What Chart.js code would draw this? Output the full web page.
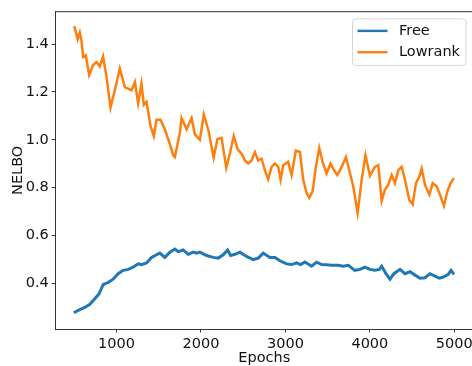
<!DOCTYPE html>
<html>
<head>
    <title>NELBO vs Epochs</title>
    <script src="https://cdn.jsdelivr.net/npm/chart.js"></script>
    <style>
        html, body { margin: 0; padding: 0; background: #fff; overflow: hidden; }
        #wrap { width: 476px; height: 366px; }
    </style>
</head>
<body>
    <div id="wrap">
        <canvas id="nelboChart" width="476" height="366"></canvas>
    </div>

    <script>
        // values
        const freeEpochs = [494, 565, 624, 684, 743, 794, 841, 900, 960, 1019, 1079, 1138, 1197, 1256, 1296,
            1355, 1415, 1474, 1513, 1572, 1632, 1691, 1730, 1789, 1848, 1908, 1948, 1987, 2066, 2145,
            2204, 2263, 2315, 2351, 2402, 2461, 2540, 2619, 2678, 2737, 2816, 2876, 2935, 3014, 3073,
            3133, 3180, 3231, 3310, 3370, 3429, 3488, 3547, 3626, 3685, 3745, 3823, 3883, 3942, 4001,
            4060, 4112, 4140, 4191, 4238, 4285, 4357, 4416, 4475, 4535, 4594, 4653, 4712, 4771, 4823,
            4870, 4929, 4961, 4996];
        const freeNelbo = [0.278, 0.291, 0.300, 0.313, 0.336, 0.357, 0.395, 0.404, 0.418, 0.441, 0.455, 0.459, 0.468, 0.482, 0.479,
            0.486, 0.509, 0.520, 0.527, 0.509, 0.531, 0.544, 0.533, 0.540, 0.522, 0.531, 0.527, 0.531, 0.517, 0.509,
            0.506, 0.520, 0.540, 0.517, 0.522, 0.531, 0.513, 0.500, 0.506, 0.527, 0.509, 0.509, 0.495, 0.482, 0.479,
            0.486, 0.479, 0.490, 0.472, 0.489, 0.479, 0.478, 0.476, 0.476, 0.472, 0.476, 0.455, 0.459, 0.468, 0.459,
            0.455, 0.459, 0.472, 0.441, 0.418, 0.441, 0.459, 0.441, 0.449, 0.435, 0.422, 0.424, 0.441, 0.431, 0.422,
            0.427, 0.438, 0.455, 0.438];

        const lowrankEpochs = [500, 540, 565, 585, 605, 636, 676, 723, 763, 802, 841, 881, 929, 980, 1039,
            1098, 1178, 1218, 1256, 1296, 1323, 1355, 1403, 1442, 1474, 1521, 1572, 1632, 1671, 1691,
            1750, 1770, 1829, 1889, 1928, 1987, 2034, 2090, 2150, 2195, 2244, 2300, 2342, 2388, 2435,
            2481, 2520, 2559, 2599, 2639, 2678, 2718, 2757, 2796, 2836, 2876, 2915, 2943, 2974, 3033,
            3073, 3124, 3172, 3211, 3251, 3282, 3322, 3361, 3401, 3440, 3488, 3535, 3575, 3614, 3666,
            3717, 3756, 3803, 3855, 3903, 3948, 4001, 4060, 4100, 4140, 4179, 4218, 4258, 4297, 4337,
            4377, 4416, 4467, 4507, 4546, 4586, 4614, 4653, 4705, 4744, 4791, 4830, 4878, 4918, 4957, 4996];
        const lowrankNelbo = [1.475, 1.420, 1.448, 1.414, 1.346, 1.353, 1.271, 1.312, 1.325, 1.307, 1.348, 1.264, 1.135, 1.207, 1.298,
            1.220, 1.207, 1.241, 1.153, 1.234, 1.146, 1.159, 1.057, 1.016, 1.084, 1.084, 1.044, 0.982, 0.935, 0.928,
            1.030, 1.091, 1.044, 1.091, 1.023, 1.000, 1.106, 1.037, 0.925, 1.003, 1.008, 0.883, 0.942, 1.016, 0.960,
            0.942, 0.914, 0.901, 0.914, 0.949, 0.914, 0.921, 0.873, 0.836, 0.887, 0.901, 0.887, 0.833, 0.894, 0.908,
            0.853, 0.955, 0.949, 0.833, 0.778, 0.758, 0.785, 0.887, 0.966, 0.908, 0.860, 0.901, 0.873, 0.853, 0.887,
            0.928, 0.873, 0.806, 0.695, 0.833, 0.935, 0.850, 0.887, 0.894, 0.745, 0.792, 0.812, 0.853, 0.819, 0.873,
            0.887, 0.833, 0.749, 0.731, 0.819, 0.846, 0.880, 0.812, 0.771, 0.819, 0.806, 0.771, 0.724, 0.785, 0.819, 0.840];

        const xTicks = [1000, 2000, 3000, 4000, 5000];
        const yTicks = [0.4, 0.6, 0.8, 1.0, 1.2, 1.4];

        const FONT = 'DejaVu Sans';
        const FONT_SIZE = 14.5;
        const textColor = '#111';
        const spineColor = '#333';

        function toPoints(xs, ys) {
            return xs.map((x, i) => ({ x: x, y: ys[i] }));
        }

        // top/right spines like matplotlib
        const framePlugin = {
            id: 'frame',
            afterDatasetsDraw(chart) {
                const { ctx, chartArea: a } = chart;
                ctx.save();
                ctx.strokeStyle = spineColor;
                ctx.lineWidth = 1;
                ctx.beginPath();
                ctx.moveTo(a.left, a.top);
                ctx.lineTo(a.right, a.top);
                ctx.lineTo(a.right, a.bottom);
                ctx.stroke();
                ctx.restore();
            }
        };

        // matplotlib-like legend box in the upper right
        const legendBoxPlugin = {
            id: 'legendBox',
            afterDraw(chart) {
                const { ctx, chartArea: a } = chart;
                const sets = chart.data.datasets;
                ctx.save();
                ctx.font = FONT_SIZE + 'px "' + FONT + '"';
                let textW = 0;
                sets.forEach(ds => { textW = Math.max(textW, ctx.measureText(ds.label).width); });
                const w = 5 + 30 + 11.5 + textW + 6;
                const h = 46.5;
                const x0 = a.right - 7.3 - w;
                const y0 = a.top + 7.2;
                ctx.beginPath();
                ctx.roundRect(x0, y0, w, h, 3);
                ctx.fillStyle = 'rgba(255,255,255,0.8)';
                ctx.fill();
                ctx.strokeStyle = '#d6d6d6';
                ctx.lineWidth = 1;
                ctx.stroke();
                sets.forEach((ds, i) => {
                    const y = y0 + 12 + i * 21.3;
                    ctx.strokeStyle = ds.borderColor;
                    ctx.lineWidth = 2.4;
                    ctx.beginPath();
                    ctx.moveTo(x0 + 5, y);
                    ctx.lineTo(x0 + 35, y);
                    ctx.stroke();
                    ctx.fillStyle = textColor;
                    ctx.textBaseline = 'middle';
                    ctx.fillText(ds.label, x0 + 46.5, y);
                });
                ctx.restore();
            }
        };

        function createChart() {
            const ctx = document.getElementById('nelboChart').getContext('2d');
            new Chart(ctx, {
                type: 'line',
                data: {
                    datasets: [{
                        label: 'Free',
                        data: toPoints(freeEpochs, freeNelbo),
                        borderColor: '#1f77b4',
                        borderWidth: 3,
                        pointRadius: 0,
                        fill: false
                    }, {
                        label: 'Lowrank',
                        data: toPoints(lowrankEpochs, lowrankNelbo),
                        borderColor: '#ff7f0e',
                        borderWidth: 2.5,
                        pointRadius: 0,
                        fill: false
                    }]
                },
                options: {
                    responsive: false,
                    animation: false,
                    devicePixelRatio: 1,
                    layout: { padding: { left: 0, top: 3.5, right: 2.7, bottom: 0 } },
                    plugins: {
                        legend: { display: false },
                        tooltip: { enabled: false }
                    },
                    scales: {
                        x: {
                            type: 'linear',
                            min: 275,
                            max: 5225,
                            afterFit(scale) { scale.height = 37; },
                            afterBuildTicks(scale) { scale.ticks = xTicks.map(v => ({ value: v })); },
                            grid: { drawOnChartArea: false, tickLength: 3.5, tickColor: spineColor },
                            border: { color: spineColor, width: 1 },
                            ticks: {
                                color: textColor,
                                padding: 3,
                                maxRotation: 0,
                                font: { family: FONT, size: FONT_SIZE },
                                callback: v => String(v)
                            },
                            title: {
                                display: true,
                                text: 'Epochs',
                                color: textColor,
                                padding: { top: 0, bottom: -1 },
                                font: { family: FONT, size: FONT_SIZE }
                            }
                        },
                        y: {
                            min: 0.21,
                            max: 1.535,
                            afterFit(scale) { scale.width = 55.3; },
                            afterBuildTicks(scale) { scale.ticks = yTicks.map(v => ({ value: v })); },
                            grid: { drawOnChartArea: false, tickLength: 3.5, tickColor: spineColor },
                            border: { color: spineColor, width: 1 },
                            ticks: {
                                color: textColor,
                                padding: 3,
                                font: { family: FONT, size: FONT_SIZE },
                                callback: v => v.toFixed(1)
                            },
                            title: {
                                display: true,
                                text: 'NELBO',
                                color: textColor,
                                padding: { top: 10, bottom: 0 },
                                font: { family: FONT, size: FONT_SIZE }
                            }
                        }
                    }
                },
                plugins: [framePlugin, legendBoxPlugin]
            });
        }

        window.onload = createChart;
    </script>
</body>
</html>
